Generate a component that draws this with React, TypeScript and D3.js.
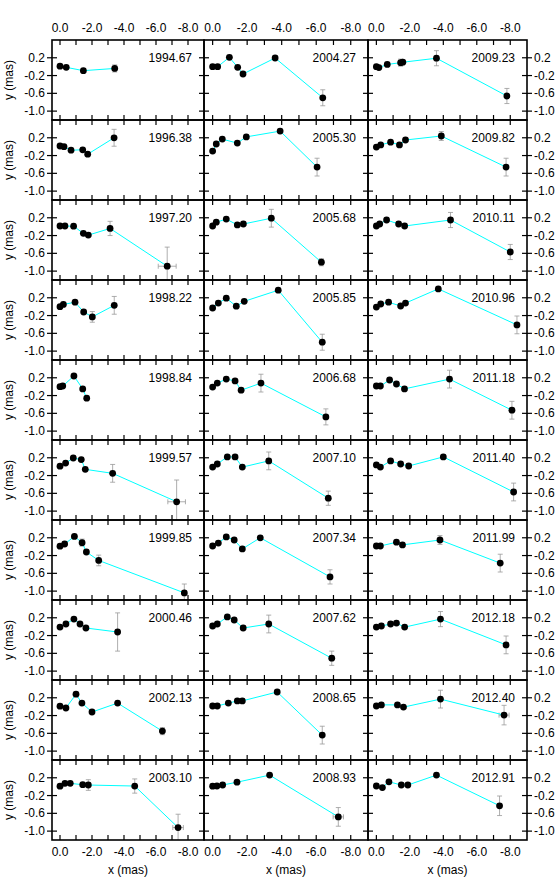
import React from 'react'
import * as d3 from 'd3'

// epochs, column-major (10 rows per column)
const epochs = [
  '1994.67', '1996.38', '1997.20', '1998.22', '1998.84', '1999.57', '1999.85', '2000.46', '2002.13', '2003.10',
  '2004.27', '2005.30', '2005.68', '2005.85', '2006.68', '2007.10', '2007.34', '2007.62', '2008.65', '2008.93',
  '2009.23', '2009.82', '2010.11', '2010.96', '2011.18', '2011.40', '2011.99', '2012.18', '2012.40', '2012.91',
]

const xPos = [
  [0, -0.39, -1.46, -3.42],
  [0, -0.25, -0.69, -1.42, -1.73, -3.38],
  [0, -0.31, -0.85, -1.46, -1.77, -3.13, -6.7],
  [0, -0.21, -0.94, -1.48, -2.02, -3.39],
  [0, -0.17, -0.87, -1.42, -1.67],
  [0, -0.35, -0.83, -1.33, -1.58, -3.29, -7.29],
  [0, -0.29, -0.9, -1.38, -1.65, -2.42, -7.77],
  [0, -0.37, -0.87, -1.25, -1.62, -3.6],
  [0, -0.37, -1.0, -1.37, -2.0, -3.6, -6.4],
  [0, -0.31, -0.64, -1.42, -1.77, -4.67, -7.38],
  [0, -0.29, -0.97, -1.45, -1.76, -3.62, -6.38],
  [0, -0.21, -0.56, -1.43, -1.95, -3.91, -6.05],
  [0, -0.21, -0.79, -1.43, -1.78, -3.4, -6.3],
  [0, -0.33, -0.79, -1.37, -1.83, -3.8, -6.35],
  [0, -0.27, -0.79, -1.3, -1.65, -2.8, -6.56],
  [0, -0.27, -0.85, -1.3, -1.72, -3.25, -6.7],
  [0, -0.33, -0.79, -1.25, -1.72, -2.76, -6.8],
  [0, -0.27, -0.85, -1.25, -1.77, -3.25, -6.9],
  [0, -0.27, -0.91, -1.43, -1.72, -3.74, -6.35],
  [0, -0.25, -0.58, -1.41, -3.3, -7.28],
  [0, -0.15, -0.65, -1.45, -1.58, -3.59, -7.8],
  [0, -0.26, -0.85, -1.38, -1.74, -3.88, -7.75],
  [0, -0.2, -0.61, -1.33, -1.69, -4.43, -8.0],
  [0, -0.26, -0.73, -1.45, -1.74, -3.7, -8.4],
  [0, -0.24, -0.79, -1.2, -1.68, -4.37, -8.1],
  [0, -0.24, -0.85, -1.45, -1.93, -4.0, -8.2],
  [0, -0.24, -1.2, -1.56, -3.8, -7.4],
  [0, -0.3, -0.85, -1.2, -1.69, -3.83, -7.75],
  [0, -0.3, -1.26, -1.62, -3.83, -7.63],
  [0, -0.36, -0.75, -1.49, -1.88, -3.59, -7.36],
]

const yPos = [
  [0.01, -0.015, -0.09, -0.04],
  [0.015, 0.0, -0.08, -0.07, -0.17, 0.2],
  [0.015, 0.015, 0.01, -0.15, -0.19, -0.04, -0.89],
  [0.0, 0.05, 0.1, -0.12, -0.23, 0.03],
  [0.0, 0.015, 0.24, -0.05, -0.26],
  [0.01, 0.08, 0.195, 0.16, -0.06, -0.15, -0.79],
  [0.01, 0.06, 0.23, 0.09, -0.12, -0.31, -1.04],
  [-0.01, 0.06, 0.17, 0.06, -0.03, -0.12],
  [0.01, -0.03, 0.28, 0.08, -0.12, 0.08, -0.55],
  [0.01, 0.075, 0.075, 0.044, 0.037, 0.014, -0.92],
  [0.0, 0.0, 0.21, -0.015, -0.165, 0.195, -0.7],
  [-0.1, 0.06, 0.17, 0.08, 0.22, 0.35, -0.46],
  [0.015, 0.1, 0.17, 0.04, 0.06, 0.19, -0.8],
  [-0.03, 0.08, 0.19, 0.01, 0.12, 0.37, -0.8],
  [-0.01, 0.08, 0.17, 0.13, -0.08, 0.08, -0.68],
  [-0.01, 0.06, 0.22, 0.22, -0.01, 0.13, -0.71],
  [0.015, 0.08, 0.22, 0.15, -0.05, 0.2, -0.68],
  [0.015, 0.06, 0.22, 0.15, -0.03, 0.06, -0.71],
  [0.015, 0.015, 0.08, 0.13, 0.13, 0.33, -0.64],
  [0.01, 0.015, 0.037, 0.1, 0.26, -0.68],
  [0.0, -0.02, 0.05, 0.09, 0.1, 0.19, -0.66],
  [-0.01, 0.04, 0.1, 0.04, 0.15, 0.24, -0.46],
  [0.015, 0.06, 0.15, 0.06, 0.015, 0.15, -0.57],
  [-0.01, 0.06, 0.1, 0.015, 0.08, 0.4, -0.41],
  [0.015, 0.015, 0.15, 0.06, -0.05, 0.17, -0.53],
  [0.04, -0.01, 0.13, 0.06, 0.015, 0.22, -0.57],
  [0.015, 0.015, 0.1, 0.04, 0.15, -0.37],
  [-0.01, 0.015, 0.06, 0.08, -0.01, 0.17, -0.41],
  [0.015, 0.04, 0.04, -0.01, 0.17, -0.19],
  [0.015, -0.02, 0.11, 0.037, 0.037, 0.26, -0.43],
]

// y error half-widths (0 = no bar drawn)
const yErr = [
  [0, 0, 0, 0.08],
  [0, 0, 0, 0, 0, 0.19],
  [0, 0, 0, 0, 0, 0.16, 0.43],
  [0, 0, 0, 0, 0.12, 0.2],
  [0, 0, 0, 0, 0],
  [0, 0, 0, 0, 0, 0.2, 0.49],
  [0, 0, 0, 0.08, 0, 0.12, 0.2],
  [0, 0, 0, 0, 0, 0.43],
  [0, 0, 0, 0, 0, 0, 0.08],
  [0, 0, 0, 0, 0.12, 0.16, 0.3],
  [0, 0, 0, 0, 0, 0, 0.18],
  [0, 0, 0, 0, 0, 0, 0.2],
  [0, 0, 0, 0, 0, 0.2, 0.08],
  [0, 0, 0, 0, 0, 0, 0.18],
  [0, 0, 0, 0, 0, 0.2, 0.18],
  [0, 0, 0, 0, 0, 0.2, 0.16],
  [0, 0, 0, 0, 0, 0, 0.16],
  [0, 0, 0, 0, 0, 0.2, 0.16],
  [0, 0, 0, 0, 0, 0, 0.2],
  [0, 0, 0, 0, 0, 0.21],
  [0, 0, 0, 0.08, 0, 0.17, 0.17],
  [0, 0, 0, 0, 0, 0.1, 0.2],
  [0, 0, 0, 0, 0, 0.17, 0.17],
  [0, 0, 0, 0, 0, 0, 0.2],
  [0, 0, 0, 0, 0, 0.2, 0.2],
  [0, 0, 0, 0, 0, 0, 0.2],
  [0, 0, 0, 0, 0.1, 0.2],
  [0, 0, 0, 0, 0, 0.17, 0.2],
  [0, 0, 0, 0, 0.2, 0.22],
  [0, 0, 0, 0, 0, 0, 0.22],
]

// x error half-widths
const xErr = [
  [], [], [0, 0, 0, 0, 0, 0, 0.56], [], [], [0, 0, 0, 0, 0, 0, 0.55], [], [], [], [0, 0, 0, 0, 0, 0, 0.33],
  [], [], [], [], [], [], [], [], [], [0, 0, 0, 0, 0, 0.3],
  [], [], [], [], [], [], [], [], [0, 0, 0, 0, 0, 0.3], [],
]

const xTickLabels = [0, -2, -4, -6, -8]
const xMinorTicks = [0, -1, -2, -3, -4, -5, -6, -7, -8]
const yTickLabels = [0.2, -0.2, -0.6, -1.0]

const W = 559
const H = 880
const colEdges = [52, 204, 368, 527]
const top0 = 40
const rowH = 80
const nRows = 10
const font = 'Liberation Sans, Arial, Helvetica, sans-serif'

function Panel({ idx }: { idx: number }) {
  const col = Math.floor(idx / nRows)
  const row = idx % nRows
  const left = colEdges[col]
  const right = colEdges[col + 1]
  const top = top0 + row * rowH
  const bottom = top + rowH
  const x = d3.scaleLinear().domain([0.5, -9]).range([left, right])
  const y = d3.scaleLinear().domain([-1.2, 0.6]).range([bottom, top])
  const xs = xPos[idx]
  const ys = yPos[idx]
  const pts: [number, number][] = xs.map((v, i) => [v, ys[i]])
  const line = d3.line<[number, number]>().x(d => x(d[0])).y(d => y(d[1]))
  const clipId = `clip${idx}`
  const tl = 5
  const cap = 2.5

  return (
    <g>
      <defs>
        <clipPath id={clipId}>
          <rect x={left} y={top} width={right - left} height={rowH} />
        </clipPath>
      </defs>
      <g clipPath={`url(#${clipId})`}>
        {pts.map((p, i) => {
          const ey = yErr[idx][i] || 0
          const ex = (xErr[idx] && xErr[idx][i]) || 0
          return (
            <g key={i} stroke='#999' strokeWidth={0.8}>
              {ey > 0 && (
                <>
                  <line x1={x(p[0])} x2={x(p[0])} y1={y(p[1] - ey)} y2={y(p[1] + ey)} />
                  <line x1={x(p[0]) - cap} x2={x(p[0]) + cap} y1={y(p[1] - ey)} y2={y(p[1] - ey)} />
                  <line x1={x(p[0]) - cap} x2={x(p[0]) + cap} y1={y(p[1] + ey)} y2={y(p[1] + ey)} />
                </>
              )}
              {ex > 0 && (
                <>
                  <line x1={x(p[0] - ex)} x2={x(p[0] + ex)} y1={y(p[1])} y2={y(p[1])} />
                  <line x1={x(p[0] - ex)} x2={x(p[0] - ex)} y1={y(p[1]) - cap} y2={y(p[1]) + cap} />
                  <line x1={x(p[0] + ex)} x2={x(p[0] + ex)} y1={y(p[1]) - cap} y2={y(p[1]) + cap} />
                </>
              )}
            </g>
          )
        })}
        <path d={line(pts) || ''} fill='none' stroke='#00ffff' strokeWidth={1} />
        {pts.map((p, i) => (
          <circle key={i} cx={x(p[0])} cy={y(p[1])} r={3.4} fill='#000' />
        ))}
      </g>
      {xMinorTicks.map(t => (
        <g key={t} stroke='#000' strokeWidth={1.2}>
          <line x1={x(t)} x2={x(t)} y1={top} y2={top + tl} />
          <line x1={x(t)} x2={x(t)} y1={bottom} y2={bottom - tl} />
        </g>
      ))}
      {yTickLabels.map(t => (
        <g key={t} stroke='#000' strokeWidth={1.2}>
          <line x1={left - (col === 0 ? tl : 0)} x2={left + tl} y1={y(t)} y2={y(t)} />
          <line x1={right + (col === 2 ? tl : 0)} x2={right - tl} y1={y(t)} y2={y(t)} />
        </g>
      ))}
      <rect x={left} y={top} width={right - left} height={rowH} fill='none' stroke='#000' strokeWidth={1.6} />
      <text x={right - 12} y={top + 22} textAnchor='end' fontSize={12} fontFamily={font}>
        {epochs[idx]}
      </text>
      {col === 0 && yTickLabels.map(t => (
        <text key={t} x={left - 7} y={y(t) + 4} textAnchor='end' fontSize={12} fontFamily={font}>
          {t.toFixed(1)}
        </text>
      ))}
      {col === 2 && yTickLabels.map(t => (
        <text key={t} x={right + 7} y={y(t) + 4} textAnchor='start' fontSize={12} fontFamily={font}>
          {t.toFixed(1)}
        </text>
      ))}
      {col === 0 && (
        <text
          transform={`translate(13,${(top + bottom) / 2}) rotate(-90)`}
          textAnchor='middle'
          fontSize={12}
          fontFamily={font}
        >
          y (mas)
        </text>
      )}
      {row === 0 && xTickLabels.map(t => (
        <text key={t} x={x(t)} y={top - 8} textAnchor='middle' fontSize={12} fontFamily={font}>
          {t.toFixed(1)}
        </text>
      ))}
      {row === nRows - 1 && (
        <>
          {xTickLabels.map(t => (
            <text key={t} x={x(t)} y={bottom + 16} textAnchor='middle' fontSize={12} fontFamily={font}>
              {t.toFixed(1)}
            </text>
          ))}
          <text x={(left + right) / 2} y={bottom + 34} textAnchor='middle' fontSize={12} fontFamily={font}>
            x (mas)
          </text>
        </>
      )}
    </g>
  )
}

export default function App() {
  return (
    <svg width={W} height={H} style={{ position: 'absolute', left: 0, top: 0, background: '#fff' }}>
      <rect width={W} height={H} fill='#fff' />
      {epochs.map((_, i) => (
        <Panel key={i} idx={i} />
      ))}
    </svg>
  )
}
